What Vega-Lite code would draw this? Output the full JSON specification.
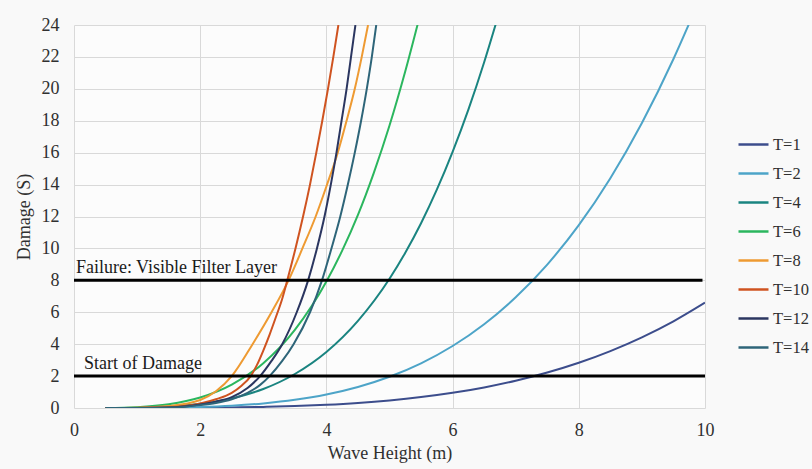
{
  "$schema": "https://vega.github.io/schema/vega-lite/v6.json",
  "width": 631,
  "height": 383,
  "autosize": {"type": "none"},
  "padding": {"left": 74, "top": 25, "right": 107, "bottom": 61},
  "background": "#f9f9f9",
  "config": {
    "font": "Liberation Serif",
    "view": {"stroke": null, "fill": "#fcfcfc"}
  },
  "datasets": {
    "curves": [
      {"T": "T=1", "H": 0.5, "S": 0}, {"T": "T=1", "H": 1, "S": 0.001}, {"T": "T=1", "H": 1.5, "S": 0.005}, {"T": "T=1", "H": 2, "S": 0.015}, {"T": "T=1", "H": 2.5, "S": 0.034}, {"T": "T=1", "H": 3, "S": 0.069}, {"T": "T=1", "H": 3.5, "S": 0.123}, {"T": "T=1", "H": 4, "S": 0.205}, {"T": "T=1", "H": 4.5, "S": 0.32}, {"T": "T=1", "H": 5, "S": 0.477}, {"T": "T=1", "H": 5.5, "S": 0.684}, {"T": "T=1", "H": 6, "S": 0.952}, {"T": "T=1", "H": 6.5, "S": 1.29}, {"T": "T=1", "H": 7, "S": 1.708}, {"T": "T=1", "H": 7.5, "S": 2.22}, {"T": "T=1", "H": 8, "S": 2.833}, {"T": "T=1", "H": 8.5, "S": 3.565}, {"T": "T=1", "H": 9, "S": 4.427}, {"T": "T=1", "H": 9.5, "S": 5.43}, {"T": "T=1", "H": 10, "S": 6.6},

      {"T": "T=2", "H": 0.5, "S": 0}, {"T": "T=2", "H": 1, "S": 0.005}, {"T": "T=2", "H": 1.5, "S": 0.021}, {"T": "T=2", "H": 2, "S": 0.062}, {"T": "T=2", "H": 2.5, "S": 0.144}, {"T": "T=2", "H": 3, "S": 0.287}, {"T": "T=2", "H": 3.5, "S": 0.512}, {"T": "T=2", "H": 4, "S": 0.846}, {"T": "T=2", "H": 4.5, "S": 1.318}, {"T": "T=2", "H": 5, "S": 1.958}, {"T": "T=2", "H": 5.5, "S": 2.8}, {"T": "T=2", "H": 6, "S": 3.886}, {"T": "T=2", "H": 6.5, "S": 5.25}, {"T": "T=2", "H": 7, "S": 6.94}, {"T": "T=2", "H": 7.5, "S": 8.99}, {"T": "T=2", "H": 8, "S": 11.46}, {"T": "T=2", "H": 8.5, "S": 14.4}, {"T": "T=2", "H": 9, "S": 17.86}, {"T": "T=2", "H": 9.5, "S": 21.87}, {"T": "T=2", "H": 9.75, "S": 24.1},

      {"T": "T=4", "H": 0.5, "S": 0}, {"T": "T=4", "H": 1, "S": 0.019}, {"T": "T=4", "H": 1.5, "S": 0.089}, {"T": "T=4", "H": 2, "S": 0.261}, {"T": "T=4", "H": 2.5, "S": 0.6}, {"T": "T=4", "H": 3, "S": 1.19}, {"T": "T=4", "H": 3.5, "S": 2.13}, {"T": "T=4", "H": 4, "S": 3.51}, {"T": "T=4", "H": 4.5, "S": 5.46}, {"T": "T=4", "H": 5, "S": 8.1}, {"T": "T=4", "H": 5.25, "S": 9.73}, {"T": "T=4", "H": 5.5, "S": 11.58}, {"T": "T=4", "H": 5.75, "S": 13.68}, {"T": "T=4", "H": 6, "S": 16.05}, {"T": "T=4", "H": 6.25, "S": 18.7}, {"T": "T=4", "H": 6.5, "S": 21.67}, {"T": "T=4", "H": 6.7, "S": 24.27},

      {"T": "T=6", "H": 0.5, "S": 0}, {"T": "T=6", "H": 1, "S": 0.054}, {"T": "T=6", "H": 1.5, "S": 0.232}, {"T": "T=6", "H": 2, "S": 0.654}, {"T": "T=6", "H": 2.5, "S": 1.46}, {"T": "T=6", "H": 3, "S": 2.81}, {"T": "T=6", "H": 3.5, "S": 4.9}, {"T": "T=6", "H": 4, "S": 7.93}, {"T": "T=6", "H": 4.25, "S": 9.86}, {"T": "T=6", "H": 4.5, "S": 12.1}, {"T": "T=6", "H": 4.75, "S": 14.72}, {"T": "T=6", "H": 5, "S": 17.7}, {"T": "T=6", "H": 5.25, "S": 21.1}, {"T": "T=6", "H": 5.45, "S": 24.1},

      {"T": "T=8", "H": 0.5, "S": 0}, {"T": "T=8", "H": 1, "S": 0.02}, {"T": "T=8", "H": 1.5, "S": 0.12}, {"T": "T=8", "H": 2, "S": 0.5}, {"T": "T=8", "H": 2.25, "S": 1.05}, {"T": "T=8", "H": 2.5, "S": 2}, {"T": "T=8", "H": 2.83, "S": 4}, {"T": "T=8", "H": 3.13, "S": 6}, {"T": "T=8", "H": 3.4, "S": 8}, {"T": "T=8", "H": 3.62, "S": 10}, {"T": "T=8", "H": 3.83, "S": 12}, {"T": "T=8", "H": 4.01, "S": 14}, {"T": "T=8", "H": 4.18, "S": 16}, {"T": "T=8", "H": 4.32, "S": 18}, {"T": "T=8", "H": 4.45, "S": 20}, {"T": "T=8", "H": 4.56, "S": 22}, {"T": "T=8", "H": 4.66, "S": 24},

      {"T": "T=10", "H": 0.5, "S": 0}, {"T": "T=10", "H": 1, "S": 0.005}, {"T": "T=10", "H": 1.5, "S": 0.04}, {"T": "T=10", "H": 2, "S": 0.28}, {"T": "T=10", "H": 2.25, "S": 0.55}, {"T": "T=10", "H": 2.5, "S": 0.95}, {"T": "T=10", "H": 2.65, "S": 1.38}, {"T": "T=10", "H": 2.8, "S": 2}, {"T": "T=10", "H": 2.9, "S": 2.7}, {"T": "T=10", "H": 3, "S": 3.6}, {"T": "T=10", "H": 3.1, "S": 4.6}, {"T": "T=10", "H": 3.2, "S": 5.7}, {"T": "T=10", "H": 3.3, "S": 6.85}, {"T": "T=10", "H": 3.38, "S": 8}, {"T": "T=10", "H": 3.51, "S": 10}, {"T": "T=10", "H": 3.63, "S": 12}, {"T": "T=10", "H": 3.74, "S": 14}, {"T": "T=10", "H": 3.84, "S": 16}, {"T": "T=10", "H": 3.935, "S": 18}, {"T": "T=10", "H": 4.025, "S": 20}, {"T": "T=10", "H": 4.11, "S": 22}, {"T": "T=10", "H": 4.19, "S": 24},

      {"T": "T=12", "H": 0.5, "S": 0}, {"T": "T=12", "H": 1, "S": 0.004}, {"T": "T=12", "H": 1.5, "S": 0.03}, {"T": "T=12", "H": 2, "S": 0.22}, {"T": "T=12", "H": 2.25, "S": 0.4}, {"T": "T=12", "H": 2.5, "S": 0.68}, {"T": "T=12", "H": 2.75, "S": 1.25}, {"T": "T=12", "H": 2.95, "S": 2}, {"T": "T=12", "H": 3.13, "S": 2.95}, {"T": "T=12", "H": 3.3, "S": 4}, {"T": "T=12", "H": 3.53, "S": 6}, {"T": "T=12", "H": 3.71, "S": 8}, {"T": "T=12", "H": 3.85, "S": 10}, {"T": "T=12", "H": 3.97, "S": 12}, {"T": "T=12", "H": 4.07, "S": 14}, {"T": "T=12", "H": 4.16, "S": 16}, {"T": "T=12", "H": 4.24, "S": 18}, {"T": "T=12", "H": 4.32, "S": 20}, {"T": "T=12", "H": 4.39, "S": 22}, {"T": "T=12", "H": 4.46, "S": 24},

      {"T": "T=14", "H": 0.5, "S": 0}, {"T": "T=14", "H": 1, "S": 0.004}, {"T": "T=14", "H": 1.5, "S": 0.025}, {"T": "T=14", "H": 2, "S": 0.18}, {"T": "T=14", "H": 2.25, "S": 0.32}, {"T": "T=14", "H": 2.5, "S": 0.55}, {"T": "T=14", "H": 2.75, "S": 0.95}, {"T": "T=14", "H": 2.95, "S": 1.45}, {"T": "T=14", "H": 3.1, "S": 2}, {"T": "T=14", "H": 3.3, "S": 2.95}, {"T": "T=14", "H": 3.48, "S": 4}, {"T": "T=14", "H": 3.74, "S": 6}, {"T": "T=14", "H": 3.93, "S": 8}, {"T": "T=14", "H": 4.08, "S": 10}, {"T": "T=14", "H": 4.22, "S": 12}, {"T": "T=14", "H": 4.34, "S": 14}, {"T": "T=14", "H": 4.45, "S": 16}, {"T": "T=14", "H": 4.55, "S": 18}, {"T": "T=14", "H": 4.64, "S": 20}, {"T": "T=14", "H": 4.72, "S": 22}, {"T": "T=14", "H": 4.79, "S": 24}
    ],
    "limits": [
      {"S": 2, "H": 0, "H2": 10},
      {"S": 8, "H": 0, "H2": 9.96}
    ],
    "notes": [
      {"label": "Failure: Visible Filter Layer", "H": 0.03, "S": 8},
      {"label": "Start of Damage", "H": 0.16, "S": 2}
    ]
  },
  "encoding": {
    "x": {
      "field": "H", "type": "quantitative",
      "scale": {"domain": [0, 10], "nice": false, "zero": true},
      "axis": {
        "values": [0, 2, 4, 6, 8, 10], "format": "d",
        "title": "Wave Height (m)",
        "grid": true, "gridColor": "#d9d9d9", "domain": false, "ticks": false,
        "labelFont": "Liberation Serif", "labelFontSize": 18, "labelColor": "#303030",
        "labelFlush": false, "labelOverlap": false, "labelPadding": 13,
        "titleFont": "Liberation Serif", "titleFontSize": 18, "titleFontWeight": "normal", "titleColor": "#303030",
        "titlePadding": 5
      }
    },
    "y": {
      "field": "S", "type": "quantitative",
      "scale": {"domain": [0, 24], "nice": false},
      "axis": {
        "values": [0, 2, 4, 6, 8, 10, 12, 14, 16, 18, 20, 22, 24], "format": "d",
        "title": "Damage (S)",
        "grid": true, "gridColor": "#d9d9d9", "domain": false, "ticks": false,
        "labelFont": "Liberation Serif", "labelFontSize": 18, "labelColor": "#303030",
        "labelFlush": false, "labelOverlap": false, "labelPadding": 15,
        "titleFont": "Liberation Serif", "titleFontSize": 18, "titleFontWeight": "normal", "titleColor": "#303030",
        "titlePadding": 8
      }
    }
  },
  "layer": [
    {
      "data": {"name": "curves"},
      "mark": {"type": "line", "interpolate": "monotone", "strokeWidth": 2, "clip": true},
      "encoding": {
        "color": {
          "field": "T", "type": "nominal",
          "scale": {
            "domain": ["T=1", "T=2", "T=4", "T=6", "T=8", "T=10", "T=12", "T=14"],
            "range": ["#3c4d8c", "#4da4c8", "#1a8480", "#2bb65e", "#ee9a32", "#cf5320", "#2b3660", "#2e6579"]
          },
          "legend": {
            "title": null,
            "orient": "none",
            "legendX": 663,
            "legendY": 103,
            "symbolType": "stroke",
            "symbolSize": 900,
            "symbolStrokeWidth": 2.5,
            "labelFont": "Liberation Serif",
            "labelFontSize": 16.5,
            "labelColor": "#303030",
            "labelOffset": 3,
            "rowPadding": 4
          }
        },
        "order": {"field": "H", "type": "quantitative"}
      }
    },
    {
      "data": {"name": "limits"},
      "mark": {"type": "rule", "strokeWidth": 3, "color": "#000000"},
      "encoding": {
        "x2": {"field": "H2"}
      }
    },
    {
      "data": {"name": "notes"},
      "mark": {"type": "text", "align": "left", "baseline": "alphabetic", "dy": -7, "fontSize": 18, "font": "Liberation Serif", "color": "#1a1a1a"},
      "encoding": {
        "text": {"field": "label"}
      }
    }
  ]
}
